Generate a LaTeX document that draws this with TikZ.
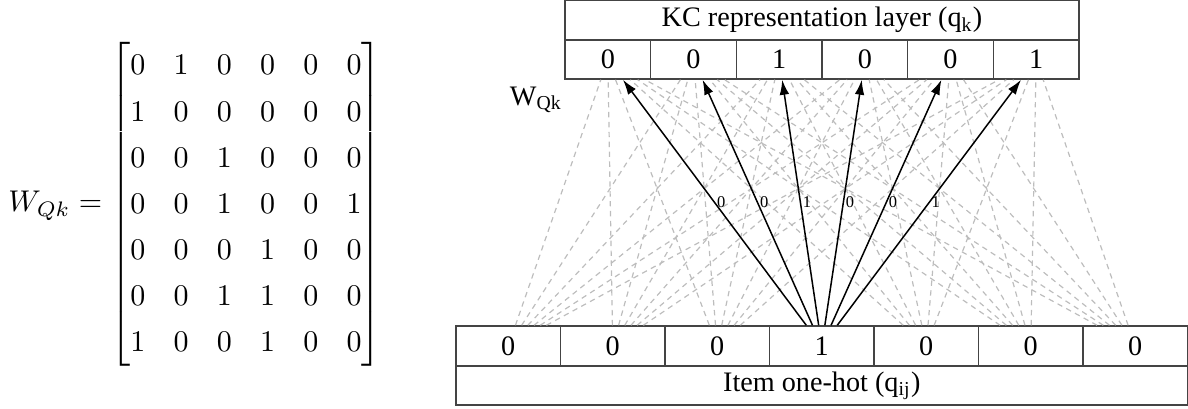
\documentclass[tikz,border=0pt]{standalone}
\usepackage[no-math]{fontspec}
\setmainfont{Liberation Serif}
\usepackage{amsmath}
\usepackage{xcolor}
\definecolor{edgegray}{HTML}{BDBDBD}
\definecolor{boxline}{HTML}{444444}
\usepackage{tikz}
\usetikzlibrary{positioning,arrows.meta}

\begin{document}
\begin{tikzpicture}[x=0.3333pt, y=-0.3333pt,
    cell/.style={draw=boxline, line width=0.5pt, inner sep=0pt, font=\fontsize{9.4}{10}\selectfont},
    kccell/.style={cell, minimum width=28.56pt, minimum height=13pt},
    itemcell/.style={cell, minimum width=34.86pt, minimum height=13.33pt},
    weakedge/.style={draw=edgegray, line width=0.4pt, dash pattern=on 1.8pt off 1.5pt},
    hotedge/.style={draw=black, line width=0.5pt, -{Latex[length=5pt, width=3.2pt]}},
    wlabel/.style={midway, anchor=west, inner sep=0.6pt, font=\fontsize{5.5}{6}\selectfont}]
  \useasboundingbox (0,0) rectangle (1188,408);
  % weight matrix
  \node (wmat) at (195,204) {\renewcommand{\arraystretch}{1.28}\setlength{\arraycolsep}{4.7pt}%
    $W_{Qk} = \begin{bmatrix}
      0 & 1 & 0 & 0 & 0 & 0\\
      1 & 0 & 0 & 0 & 0 & 0\\
      0 & 0 & 1 & 0 & 0 & 0\\
      0 & 0 & 1 & 0 & 0 & 1\\
      0 & 0 & 0 & 1 & 0 & 0\\
      0 & 0 & 1 & 1 & 0 & 0\\
      1 & 0 & 0 & 1 & 0 & 0
    \end{bmatrix}$};
  % KC layer
  \node[cell, minimum width=171.33pt, minimum height=13.33pt] (kctitle) at (822,20)
    {KC representation layer (q\textsubscript{k})};
  \foreach \v [count=\i] in {0,0,1,0,0,1}
    \node[kccell] (t\i) at ({565+85.67*(\i-0.5)},59.5) {\v};
  % item layer
  \foreach \v [count=\j] in {0,0,0,1,0,0,0}
    \node[itemcell] (b\j) at ({456+104.5*(\j-0.5)},346) {\v};
  \node[cell, minimum width=243.83pt, minimum height=13pt] (itemtitle) at (821.75,385.5)
    {Item one-hot (q\textsubscript{ij})};
  \node[font=\fontsize{9.4}{10}\selectfont] (wlbl) at (536,100) {W\textsubscript{Qk}};
  % edges
  \foreach \j in {1,2,3,5,6,7}
    \foreach \i in {1,...,6}
      \draw[weakedge] (b\j) -- (t\i);
  \foreach \v [count=\i] in {0,0,1,0,0,1}
    \draw[hotedge] (b4) -- node[wlabel] {\v} (t\i);
\end{tikzpicture}
\end{document}
